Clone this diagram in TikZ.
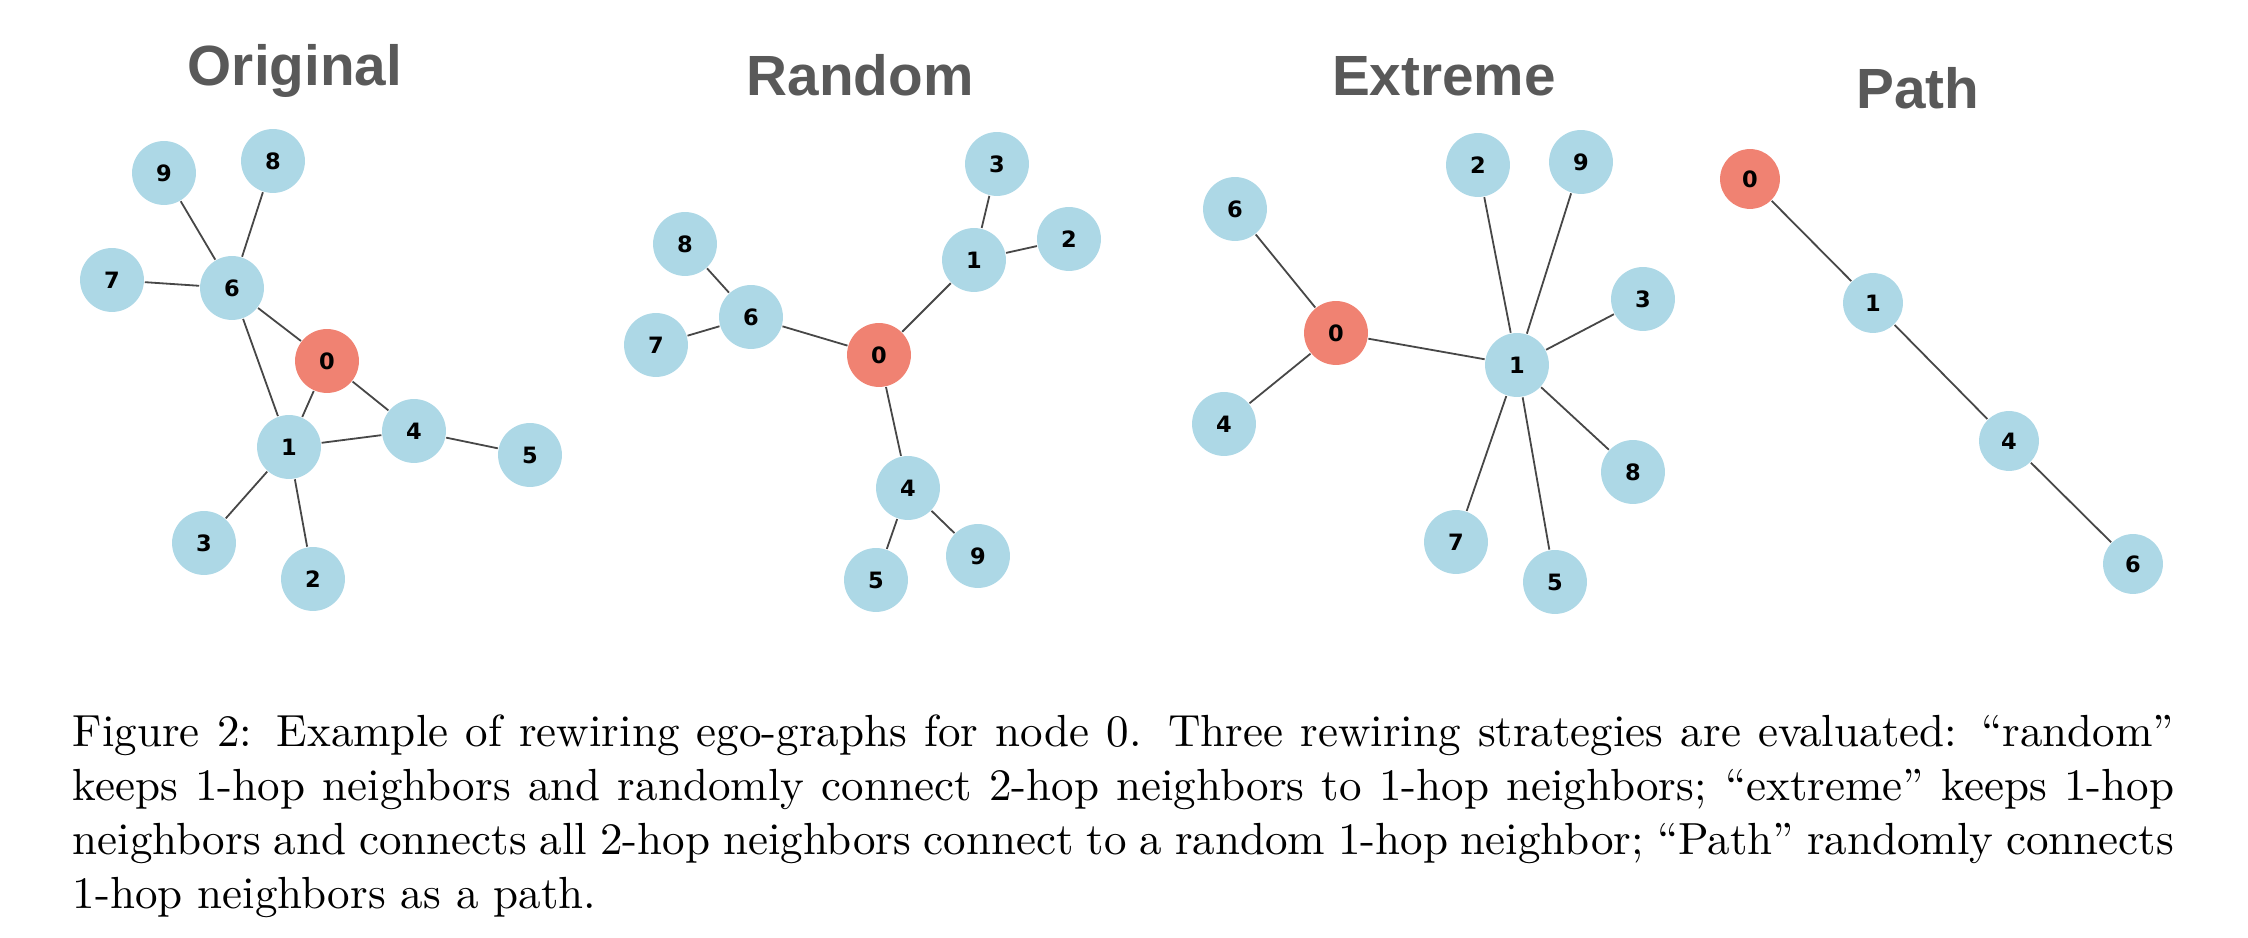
\documentclass[tikz,border=0pt]{standalone}
\usepackage{fontspec}
\newfontfamily\titlefont{Liberation Sans}
\newfontfamily\labelfont{DejaVu Sans}
\usepackage{xcolor}
\definecolor{egoblue}{HTML}{ADD8E6}
\definecolor{egored}{HTML}{F08272}
\definecolor{titlegray}{HTML}{595959}
\usepackage{tikz}

\begin{document}
\begin{tikzpicture}[
                x=0.2222pt, y=-0.2222pt,
                vertex/.style={circle, fill=egoblue, inner sep=0pt, minimum size=14.2pt, font=\labelfont\bfseries\fontsize{5}{6}\selectfont}, % blue nodes
                ego/.style={vertex, fill=egored}, % node 0
                smallvertex/.style={minimum size=13.3pt}, % path panel
                paneltitle/.style={anchor=base, text=titlegray, font=\titlefont\bfseries\fontsize{12.6}{14}\selectfont},
                link/.style={draw=black!72, line width=0.4pt}, % edges
                caption/.style={anchor=north west, inner sep=0pt, text width=466.9pt, align=justify, font=\fontsize{10}{12}\selectfont}
                ]
                \useasboundingbox (0,0) rectangle (2248,938);

                % titles
                \node[paneltitle] (tOrig) at (295,86) {Original};
                \node[paneltitle] (tRand) at (860,96) {Random};
                \node[paneltitle] (tExt) at (1444,96) {Extreme};
                \node[paneltitle] (tPath) at (1918,109) {Path};

                % original
                \node[ego] (o0) at (327,361) {0};
                \node[vertex] (o1) at (289,447) {1};
                \node[vertex] (o2) at (313,579) {2};
                \node[vertex] (o3) at (204,543) {3};
                \node[vertex] (o4) at (414,431) {4};
                \node[vertex] (o5) at (530,455) {5};
                \node[vertex] (o6) at (232,288) {6};
                \node[vertex] (o7) at (112,280) {7};
                \node[vertex] (o8) at (273,161) {8};
                \node[vertex] (o9) at (164,173) {9};
                \foreach \a/\b in {o9/o6, o8/o6, o7/o6, o6/o0, o6/o1, o0/o1, o0/o4, o1/o4, o4/o5, o1/o3, o1/o2}
                    \draw[link] (\a) -- (\b);

                % random
                \node[ego] (r0) at (879,355) {0};
                \node[vertex] (r1) at (974,260) {1};
                \node[vertex] (r2) at (1069,239) {2};
                \node[vertex] (r3) at (997,164) {3};
                \node[vertex] (r4) at (908,488) {4};
                \node[vertex] (r5) at (876,580) {5};
                \node[vertex] (r6) at (751,317) {6};
                \node[vertex] (r7) at (656,345) {7};
                \node[vertex] (r8) at (685,244) {8};
                \node[vertex] (r9) at (978,556) {9};
                \foreach \a/\b in {r3/r1, r2/r1, r1/r0, r8/r6, r7/r6, r6/r0, r0/r4, r4/r5, r4/r9}
                    \draw[link] (\a) -- (\b);

                % extreme
                \node[ego] (e0) at (1336,333) {0};
                \node[vertex] (e1) at (1517,365) {1};
                \node[vertex] (e2) at (1478,165) {2};
                \node[vertex] (e3) at (1643,299) {3};
                \node[vertex] (e4) at (1224,424) {4};
                \node[vertex] (e5) at (1555,582) {5};
                \node[vertex] (e6) at (1235,209) {6};
                \node[vertex] (e7) at (1456,542) {7};
                \node[vertex] (e8) at (1633,472) {8};
                \node[vertex] (e9) at (1581,162) {9};
                \foreach \a/\b in {e6/e0, e4/e0, e0/e1, e2/e1, e9/e1, e3/e1, e8/e1, e7/e1, e5/e1}
                    \draw[link] (\a) -- (\b);

                % path
                \node[ego, smallvertex] (p0) at (1750,179) {0};
                \node[vertex, smallvertex] (p1) at (1873,303) {1};
                \node[vertex, smallvertex] (p4) at (2009,441) {4};
                \node[vertex, smallvertex] (p6) at (2133,564) {6};
                \draw[link] (p0) -- (p1) -- (p4) -- (p6);

                % caption
                \node[caption] (cap) at (72,714) {Figure 2: Example of rewiring ego-graphs for node 0. Three rewiring strategies are evaluated: ``random'' keeps 1-hop neighbors and randomly connect 2-hop neighbors to 1-hop neighbors; ``extreme'' keeps 1-hop neighbors and connects all 2-hop neighbors connect to a random 1-hop neighbor; ``Path'' randomly connects 1-hop neighbors as a path.};
            \end{tikzpicture}
\end{document}
